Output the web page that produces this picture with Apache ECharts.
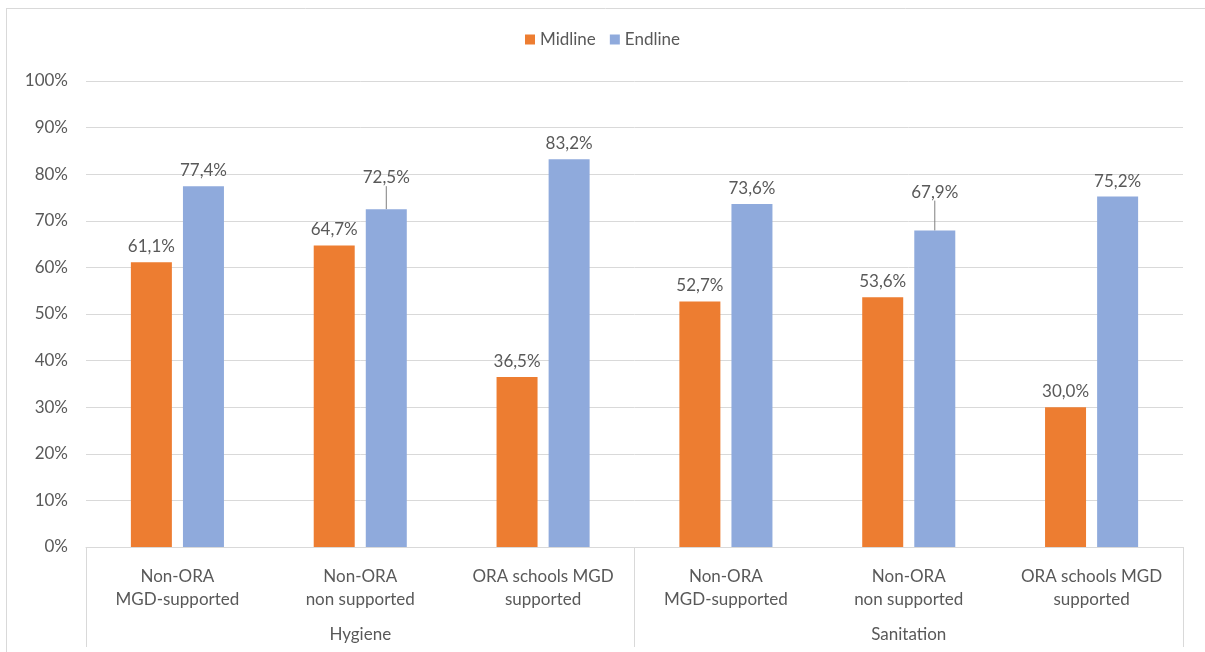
<!DOCTYPE html>
<html>
<head>
<meta charset="utf-8">
<style>
  html, body { margin: 0; padding: 0; background: #ffffff; }
  #chart { width: 1205px; height: 652px; }
</style>
<script src="https://cdn.jsdelivr.net/npm/echarts@6/dist/echarts.min.js"></script>
</head>
<body>
<div id="chart"></div>
<script>
// School groups (first level of the category axis)
const categories = [
  'Non-ORA\nMGD-supported',
  'Non-ORA\nnon supported',
  'ORA schools MGD\nsupported',
  'Non-ORA\nMGD-supported',
  'Non-ORA\nnon supported',
  'ORA schools MGD\nsupported'
];
// Domains (second level of the category axis)
const domains = ['Hygiene', 'Sanitation'];
// Share of schools, in percent
const midline = [61.1, 64.7, 36.5, 52.7, 53.6, 30.0];
const endline = [77.4, 72.5, 83.2, 73.6, 67.9, 75.2];
// Value-axis ticks
const yMin = 0, yMax = 100, yStep = 10;

// Labels lifted above their bar, joined back to it by a leader line (index -> vertical shift)
const liftedEndline = { 1: -16, 4: -23 };

const FONT = 'Lato, "Open Sans", sans-serif';
const FS = 17;
const TEXT = '#595959';
const LINE = '#d9d9d9';

const fmt = v => v.toFixed(1).replace('.', ',') + '%';

const chart = echarts.init(document.getElementById('chart'));

const labelBase = {
  show: true,
  position: 'top',
  distance: 7,
  color: TEXT,
  fontFamily: FONT,
  fontSize: FS,
  formatter: p => fmt(p.value)
};

chart.setOption({
  animation: false,
  textStyle: { fontFamily: FONT },
  legend: {
    top: 26,
    left: 'center',
    icon: 'rect',
    itemWidth: 10,
    itemHeight: 10,
    itemGap: 14,
    textStyle: { color: TEXT, fontSize: FS, fontFamily: FONT },
    data: ['Midline', 'Endline']
  },
  grid: { left: 86, right: 22, top: 81, bottom: 105, containLabel: false },
  xAxis: [
    {
      type: 'category',
      data: categories,
      axisLine: { lineStyle: { color: LINE } },
      axisTick: { show: false },
      axisLabel: {
        interval: 0,
        margin: 18,
        color: TEXT,
        fontSize: FS,
        lineHeight: 23,
        fontFamily: FONT
      }
    },
    {
      type: 'category',
      position: 'bottom',
      data: domains,
      axisLine: { show: false },
      axisTick: { show: true, length: 100, lineStyle: { color: LINE } },
      axisLabel: { margin: 79, color: TEXT, fontSize: FS, fontFamily: FONT },
      splitLine: { show: false }
    }
  ],
  yAxis: {
    type: 'value',
    min: yMin,
    max: yMax,
    interval: yStep,
    axisLine: { show: false },
    axisTick: { show: false },
    axisLabel: {
      formatter: '{value}%',
      margin: 18,
      color: TEXT,
      fontSize: FS,
      fontFamily: FONT
    },
    splitLine: { lineStyle: { color: LINE } }
  },
  series: [
    {
      name: 'Midline',
      type: 'bar',
      barWidth: 41,
      barGap: '27%',
      itemStyle: { color: '#ED7D31' },
      label: labelBase,
      data: midline
    },
    {
      name: 'Endline',
      type: 'bar',
      barWidth: 41,
      barGap: '27%',
      itemStyle: { color: '#8FAADC' },
      label: labelBase,
      labelLine: { show: false, lineStyle: { color: '#7f7f7f', width: 1 } },
      labelLayout: p => (p.dataIndex in liftedEndline ? { dy: liftedEndline[p.dataIndex] } : {}),
      data: endline.map((v, i) => (i in liftedEndline
        ? { value: v, labelLine: { show: true, length2: 0, lineStyle: { color: '#7f7f7f', width: 1 } } }
        : v))
    }
  ],
  graphic: [
    { type: 'line', silent: true, shape: { x1: 6.5, y1: 8, x2: 6.5, y2: 652 }, style: { stroke: LINE, lineWidth: 1 } },
    { type: 'line', silent: true, shape: { x1: 6, y1: 8.5, x2: 1205, y2: 8.5 }, style: { stroke: LINE, lineWidth: 1 } }
  ]
});
</script>
</body>
</html>
